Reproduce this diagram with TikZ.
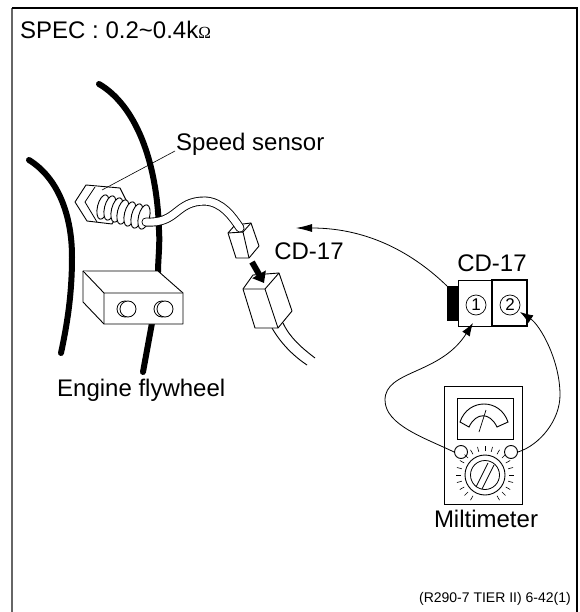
\documentclass[tikz,border=0pt]{standalone}
\usepackage{fontspec}
\setmainfont{Liberation Sans}
\usetikzlibrary{arrows.meta}
\tikzset{
    lbl/.style={font=\fontsize{24}{27}\selectfont, inner sep=0},
    flywheel/.style={line width=6pt, line cap=round},
    thin part/.style={line width=0.9pt, fill=white, line join=round},
    lead/.style={line width=0.8pt, -{Latex[length=13pt,width=9pt]}},
}
\begin{document}
\begin{tikzpicture}[x=1pt,y=-1pt]
    \useasboundingbox (0,0) rectangle (579,612);
    \draw[line width=1.2pt,black!60] (12,612)--(12,8);
    \draw[line width=1.2pt] (12,8)--(577,8)--(577,612);
    \node[lbl,anchor=west] (spec) at (20,30) {SPEC : 0.2\char"007E 0.4k{\fontsize{17}{17}\selectfont\fontspec{Liberation Serif}Ω}};
    % flywheel
    \draw[flywheel] (29,160) .. controls (58,178) and (72,215) .. (72,257) .. controls (72,295) and (67,325) .. (61,353);
    \draw[flywheel] (99,84) .. controls (135,105) and (157,160) .. (159,230) .. controls (160,245) and (158,260) .. (158,272);
    \draw[flywheel] (152,323)--(143,372);
    % bracket
    \draw[thin part] (83,271)--(158,271)--(183,293)--(183,324)--(104,324)--(83,302)--cycle;
    \draw[thin part] (83,271)--(104,293)--(183,293) (104,293)--(104,324);
    \foreach \x/\n in {128/a,165/b}{
        \draw[line width=0.8pt] (\x-3,309) circle (8);
        \node[circle,draw,line width=0.8pt,fill=white,minimum size=16pt,inner sep=0] (hole\n) at (\x,309) {};
    }
    % sensor
    \draw[thin part] (75,202)--(86,185)--(120,188)--(126,200)--(112,224)--(87,221)--cycle;
    \draw[line width=0.8pt] (95,187)--(85,202)--(97,222);
    \foreach \x/\y in {103/207,110/208,117/210,123/212,130/214,137/216,144/217}
        \draw[thin part,rotate around={-14:(\x,\y)}] (\x,\y) ellipse (5.5 and 12.5);
    % small connector
    \draw[thin part] (228,233)--(235,225)--(251,223)--(259,246)--(249,258)--(236,258)--cycle;
    \draw[line width=0.9pt] (228,233)--(243,232)--(251,223) (243,232)--(249,258);
    % cable
    \draw[line width=9pt,line cap=round] (146,222) .. controls (178,224) and (175,201) .. (205,201) .. controls (222,202) and (232,216) .. (240,228);
    \draw[line width=7.2pt,white,line cap=round] (146,222) .. controls (178,224) and (175,201) .. (205,201) .. controls (222,202) and (232,216) .. (240,228);
    % large connector
    \draw[line width=0.9pt] (272,328) .. controls (280,342) and (292,355) .. (307,365) (283,323) .. controls (290,338) and (302,348) .. (315,358);
    \draw[thin part] (243,289)--(253,275)--(279,273)--(292,311)--(278,328)--(255,328)--cycle;
    \draw[line width=0.9pt] (243,289)--(265,289)--(279,273) (265,289)--(278,328);
    % fat arrow
    \draw[line width=6pt,-{Triangle[length=10pt,width=15pt]}] (252,262)--(264,283);
    \node[lbl,anchor=center] (cdleft) at (309,251) {CD-17};
    \node[lbl,anchor=west] (flywheeltxt) at (57,390) {Engine flywheel};
    % leader
    \coordinate (lead) at (102,190);
    \node[lbl,anchor=west] (sensor) at (176,144) {Speed sensor};
    \draw[line width=0.6pt] (lead)--(175,151);
    % connector on the right
    \node[fill=black,minimum width=11pt,minimum height=35pt,inner sep=0] (lock) at (452.5,303.5) {};
    \node[draw,line width=0.9pt,fill=white,minimum width=34pt,minimum height=46pt,inner sep=0] (pinbox) at (475,303) {};
    \node[draw,line width=1.2pt,fill=white,minimum width=35pt,minimum height=46pt,inner sep=0] (pintwo) at (509.5,303) {};
    \node[circle,draw,line width=0.7pt,minimum size=20pt,inner sep=0,font=\fontsize{17}{17}\selectfont] (one) at (476,305) {1};
    \node[circle,draw,line width=0.7pt,minimum size=20pt,inner sep=0,font=\fontsize{17}{17}\selectfont] (two) at (510,305) {2};
    \node[lbl] (cdright) at (492,263) {CD-17};
    \coordinate (lockcorner) at (447,286);
    \coordinate (tip) at (296,228);
    \draw[line width=0.8pt,-{Latex[length=16pt,width=8pt]}] (lockcorner) .. controls (415,255) and (370,228) .. (tip);
    % meter
    \node[draw,line width=1pt,minimum width=78pt,minimum height=118pt,inner sep=0] (meter) at (483,445) {};
    \node[draw,line width=1pt,minimum width=56pt,minimum height=41pt,inner sep=0] (screen) at (485,418.5) {};
    \draw[line width=0.9pt] (460,422) .. controls (468,398) and (500,398) .. (508,422) -- (497,427) .. controls (490,412) and (476,412) .. (469,427) -- cycle;
    \draw[line width=0.7pt] (479,432)--(486,410);
    \node[circle,draw,line width=0.9pt,minimum size=13pt,inner sep=0] (jackl) at (461,452) {};
    \node[circle,draw,line width=0.9pt,minimum size=13pt,inner sep=0] (jackr) at (511,452) {};
    \foreach \a in {-150,-135,...,150}
        \draw[line width=0.6pt] (485,475) ++(\a-90:24) -- ++(\a-90:5);
    \node[circle,draw,line width=0.9pt,minimum size=40pt,inner sep=0] (dial) at (485,475) {};
    \node[circle,draw,line width=0.8pt,minimum size=29pt,inner sep=0] (dialin) at (485,475) {};
    \draw[line width=0.8pt] (476,487)--(488,463) (482,489)--(494,465);
    \node[lbl] (meterlbl) at (486,519) {Miltimeter};
    \draw[lead] (jackl.west) .. controls (425,438) and (385,425) .. (385,400) .. controls (385,370) and (440,375) .. (473,323);
    \draw[lead] (jackr.east) .. controls (540,445) and (560,420) .. (560,395) .. controls (560,360) and (540,325) .. (520,312);
    \node[anchor=east,inner sep=0,font=\fontsize{14}{16}\selectfont] (ref) at (571,599) {(R290-7 TIER II) 6-42(1)};
\end{tikzpicture}
\end{document}
